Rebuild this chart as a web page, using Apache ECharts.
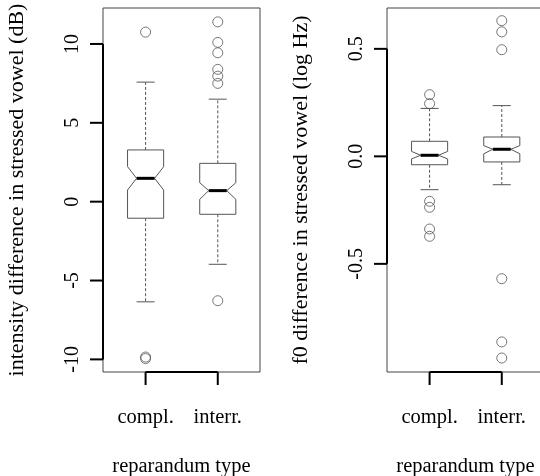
<!DOCTYPE html>
<html>
<head>
<meta charset="utf-8">
<script src="https://cdn.jsdelivr.net/npm/echarts@6/dist/echarts.min.js"></script>
<style>
  html, body { margin: 0; padding: 0; background: #fff; }
  #main { width: 540px; height: 476px; }
</style>
</head>
<body>
<div id="main"></div>
<script>
// categories (drawn at x = 1, 2)
var groups = ['compl.', 'interr.'];
var groupPos = [1, 2];

// intensity difference (dB)
var intWhiskLo = [-6.35, -3.97];
var intQ1 = [-1.05, -0.8];
var intNotchLo = [0.74, 0.15];
var intMedian = [1.48, 0.70];
var intNotchHi = [2.22, 1.20];
var intQ3 = [3.28, 2.43];
var intWhiskHi = [7.58, 6.5];
var intOutCompl = [10.75, -9.85, -9.95];
var intOutInterr = [11.4, 10.1, 9.44, 8.39, 7.96, 7.5, -6.28];
var intTicks = [-10, -5, 0, 5, 10];

// f0 difference (log Hz)
var f0WhiskLo = [-0.155, -0.132];
var f0Q1 = [-0.039, -0.026];
var f0NotchLo = [-0.012, 0.012];
var f0Median = [0.005, 0.033];
var f0NotchHi = [0.023, 0.05];
var f0Q3 = [0.070, 0.090];
var f0WhiskHi = [0.223, 0.236];
var f0OutCompl = [0.287, 0.245, -0.209, -0.237, -0.338, -0.372];
var f0OutInterr = [0.631, 0.579, 0.496, -0.569, -0.863, -0.938];
var f0Ticks = [-0.5, 0, 0.5];

var xMin = 0.41, xMax = 2.585;
var intMin = -10.8, intMax = 12.28;
var f0Min = -1.003, f0Max = 0.69;

var font = 'Liberation Serif';
var tickLen = 13;

function boxRows(wl, q1, nl, md, nh, q3, wh) {
    var rows = [];
    for (var i = 0; i < groupPos.length; i++) {
        rows.push([groupPos[i], wl[i], q1[i], nl[i], md[i], nh[i], q3[i], wh[i]]);
    }
    return rows;
}

function outRows(outCompl, outInterr) {
    var rows = [];
    outCompl.forEach(function (v) { rows.push([groupPos[0], v]); });
    outInterr.forEach(function (v) { rows.push([groupPos[1], v]); });
    return rows;
}

function seg(a, b, style) {
    return {type: 'line', shape: {x1: a[0], y1: a[1], x2: b[0], y2: b[1]}, style: style};
}

function renderBox(params, api) {
    var x = api.value(0);
    var wl = api.value(1), q1 = api.value(2), nl = api.value(3), md = api.value(4),
        nh = api.value(5), q3 = api.value(6), wh = api.value(7);
    var hw = 0.25, nw = 0.125, cw = 0.125;
    function p(dx, y) { return api.coord([x + dx, y]); }
    var dash = {stroke: '#555', lineWidth: 1, lineDash: [3, 2]};
    var solid = {stroke: '#555', lineWidth: 1};
    return {
        type: 'group',
        children: [
            seg(p(0, q3), p(0, wh), dash),
            seg(p(0, q1), p(0, wl), dash),
            seg(p(-cw, wh), p(cw, wh), solid),
            seg(p(-cw, wl), p(cw, wl), solid),
            {
                type: 'polygon',
                shape: {points: [p(-hw, q1), p(-hw, nl), p(-nw, md), p(-hw, nh), p(-hw, q3),
                                 p(hw, q3), p(hw, nh), p(nw, md), p(hw, nl), p(hw, q1)]},
                style: {stroke: '#555', fill: '#fff', lineWidth: 1}
            },
            seg(p(-nw, md), p(nw, md), {stroke: '#000', lineWidth: 3})
        ]
    };
}

// R style axes: line only between first and last tick, ticks pointing out
function makeAxisRender(ticks, yMin) {
    return function (params, api) {
        var st = {stroke: '#000', lineWidth: 2};
        var kids = [];
        var a = api.coord([xMin, ticks[0]]);
        var b = api.coord([xMin, ticks[ticks.length - 1]]);
        kids.push(seg(a, b, st));
        ticks.forEach(function (t) {
            var q = api.coord([xMin, t]);
            kids.push(seg(q, [q[0] - tickLen, q[1]], st));
        });
        var c = api.coord([groupPos[0], yMin]);
        var d = api.coord([groupPos[groupPos.length - 1], yMin]);
        kids.push(seg(c, d, st));
        groupPos.forEach(function (g) {
            var q = api.coord([g, yMin]);
            kids.push(seg(q, [q[0], q[1] + tickLen], st));
        });
        return {type: 'group', children: kids};
    };
}

function xAxisOpt(idx) {
    return {
        type: 'value', gridIndex: idx, min: xMin, max: xMax,
        splitLine: {show: false},
        axisLine: {show: false},
        axisTick: {show: false},
        axisLabel: {
            customValues: groupPos, margin: 35, color: '#000', fontFamily: font, fontSize: 20.5,
            formatter: function (v) { return groups[groupPos.indexOf(v)]; }
        },
        name: 'reparandum type', nameLocation: 'middle', nameGap: 84,
        nameTextStyle: {color: '#000', fontFamily: font, fontSize: 20.5}
    };
}

function yAxisOpt(idx, mn, mx, ticks, title, digits, gap) {
    return {
        type: 'value', gridIndex: idx, min: mn, max: mx,
        splitLine: {show: false},
        axisLine: {show: false},
        axisTick: {show: false},
        axisLabel: {
            customValues: ticks, rotate: 90, margin: 20, color: '#000', fontFamily: font, fontSize: 20,
            formatter: function (v) { return v.toFixed(digits); }
        },
        name: title, nameLocation: 'middle', nameGap: gap,
        nameTextStyle: {color: '#000', fontFamily: font, fontSize: 22}
    };
}

var myChart = echarts.init(document.getElementById('main'));

var option = {
    animation: false,
    backgroundColor: '#fff',
    grid: [
        {left: 103, top: 8, width: 157, height: 364, show: true, borderColor: '#444', borderWidth: 1,
         outerBoundsMode: 'none'},
        {left: 387, top: 8, width: 157, height: 364, show: true, borderColor: '#444', borderWidth: 1,
         outerBoundsMode: 'none'}
    ],
    xAxis: [xAxisOpt(0), xAxisOpt(1)],
    yAxis: [
        yAxisOpt(0, intMin, intMax, intTicks, 'intensity difference in stressed vowel (dB)', 0, 75),
        yAxisOpt(1, f0Min, f0Max, f0Ticks, 'f0 difference in stressed vowel (log Hz)', 1, 75)
    ],
    series: [
        {
            type: 'custom', xAxisIndex: 0, yAxisIndex: 0, renderItem: renderBox,
            data: boxRows(intWhiskLo, intQ1, intNotchLo, intMedian, intNotchHi, intQ3, intWhiskHi),
            encode: {x: 0, y: [1, 2, 3, 4, 5, 6, 7]}
        },
        {
            type: 'custom', xAxisIndex: 1, yAxisIndex: 1, renderItem: renderBox,
            data: boxRows(f0WhiskLo, f0Q1, f0NotchLo, f0Median, f0NotchHi, f0Q3, f0WhiskHi),
            encode: {x: 0, y: [1, 2, 3, 4, 5, 6, 7]}
        },
        {
            type: 'scatter', xAxisIndex: 0, yAxisIndex: 0, symbol: 'circle', symbolSize: 10,
            itemStyle: {color: 'rgba(0,0,0,0)', borderColor: '#555', borderWidth: 1},
            data: outRows(intOutCompl, intOutInterr)
        },
        {
            type: 'scatter', xAxisIndex: 1, yAxisIndex: 1, symbol: 'circle', symbolSize: 10,
            itemStyle: {color: 'rgba(0,0,0,0)', borderColor: '#555', borderWidth: 1},
            data: outRows(f0OutCompl, f0OutInterr)
        },
        {
            type: 'custom', xAxisIndex: 0, yAxisIndex: 0, clip: false, silent: true, z: 5,
            renderItem: makeAxisRender(intTicks, intMin), data: [[groupPos[0], intTicks[0]]]
        },
        {
            type: 'custom', xAxisIndex: 1, yAxisIndex: 1, clip: false, silent: true, z: 5,
            renderItem: makeAxisRender(f0Ticks, f0Min), data: [[groupPos[0], f0Ticks[0]]]
        }
    ]
};
myChart.setOption(option);
window.onresize = myChart.resize;
</script>
</body>
</html>
